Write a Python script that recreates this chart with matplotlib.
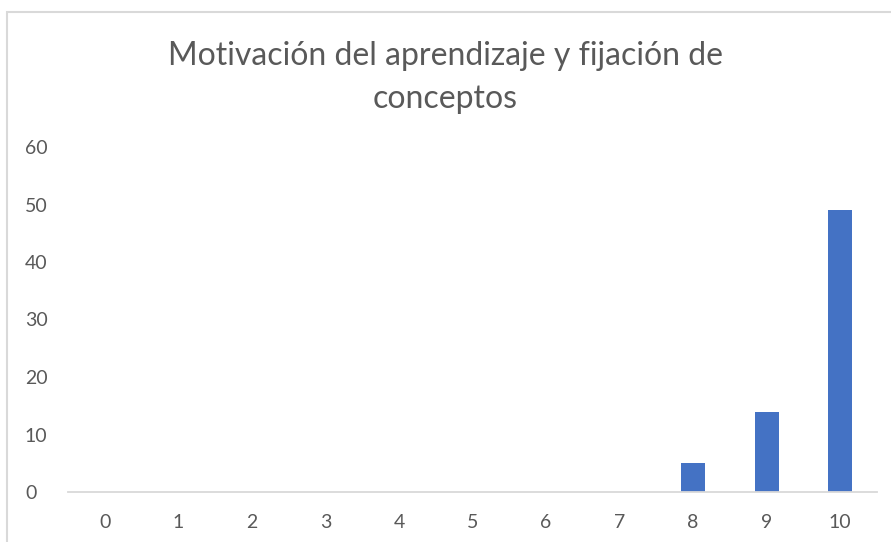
import matplotlib.pyplot as plt
from matplotlib.patches import Rectangle

# Datos
categorias = ['0', '1', '2', '3', '4', '5', '6', '7', '8', '9', '10']
valores = [0, 0, 0, 0, 0, 0, 0, 0, 5, 14, 49]

plt.rcParams['font.family'] = ['Lato', 'DejaVu Sans']

fig = plt.figure(figsize=(8.91, 5.42), dpi=100)
ax = fig.add_axes([68 / 891, 1 - 492 / 542, (877 - 68) / 891, (492 - 147) / 542])

x = range(len(categorias))
ax.bar(x, valores, width=0.33, color='#4472C4')

ax.set_xlim(-0.5, len(categorias) - 0.5)
ax.set_ylim(0, 60)
ax.set_yticks(range(0, 61, 10))
ax.set_xticks(list(x))
ax.set_xticklabels(categorias)

for side in ['top', 'right', 'left']:
    ax.spines[side].set_visible(False)
ax.spines['bottom'].set_color('#d9d9d9')
ax.spines['bottom'].set_linewidth(1.3)
ax.tick_params(axis='both', length=0, labelsize=14, colors='#595959')
ax.tick_params(axis='x', pad=16)
ax.tick_params(axis='y', pad=31)
for lbl in ax.get_yticklabels():
    lbl.set_horizontalalignment('left')

fig.text(0.5, 1 - 56 / 542, 'Motivación del aprendizaje y fijación de',
         ha='center', va='center', fontsize=23, color='#595959')
fig.text(0.5, 1 - 99 / 542, 'conceptos',
         ha='center', va='center', fontsize=23, color='#595959')

# marco del area del grafico (recortado a la derecha y abajo)
fig.patches.append(Rectangle((7 / 891, -0.1), 1.2, 1 - 12 / 542 + 0.1,
                             transform=fig.transFigure, fill=False,
                             edgecolor='#d9d9d9', linewidth=1.5))

fig.savefig('out.png', dpi=100)
